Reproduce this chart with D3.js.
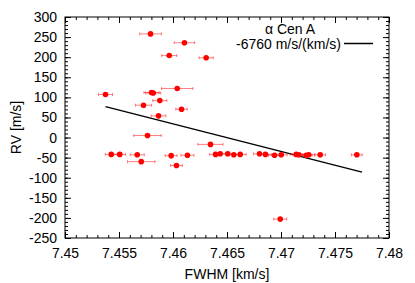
<!DOCTYPE html>
<html>
<head>
<meta charset="utf-8">
<script src="https://cdn.jsdelivr.net/npm/d3@7"></script>
<style>
  body { margin: 0; background: #fff; }
  text { font-family: "Liberation Sans", Arial, sans-serif; }
</style>
</head>
<body>
<div id="chart"></div>
<script>
// FWHM [km/s], its error, and RV [m/s] for each observation
var fwhm = [7.45792, 7.46106, 7.45965, 7.46307, 7.46039, 7.45375, 7.45801, 7.45817,
            7.45878, 7.45727, 7.46079, 7.45866, 7.45764, 7.46347, 7.45428, 7.45507,
            7.45669, 7.45706, 7.45983, 7.46134, 7.46032, 7.46394, 7.46437, 7.46507,
            7.46563, 7.46622, 7.46801, 7.46856, 7.4694, 7.47002, 7.47141, 7.47165,
            7.47233, 7.47257, 7.47363, 7.47702, 7.46993];
var fwhmErr = [0.0010, 0.00095, 0.0007, 0.00065, 0.00145, 0.00065, 0.0007, 0.0007,
               0.00065, 0.00075, 0.00053, 0.00068, 0.00127, 0.00116, 0.00055, 0.00055,
               0.00065, 0.00127, 0.00055, 0.0006, 0.00055, 0.00055, 0.00055, 0.00055,
               0.00055, 0.00055, 0.00055, 0.00055, 0.00055, 0.00055, 0.00055, 0.00055,
               0.00055, 0.00055, 0.0005, 0.0005, 0.0006];
var rv = [258, 236, 204, 198.5, 122, 107, 112, 111,
          92, 80.5, 70.5, 54, 5, -17, -42, -42,
          -43, -60, -45, -44, -69.5, -42, -40.5, -40.5,
          -43, -42, -40.5, -42, -44, -43, -42, -43,
          -44, -43, -43, -43, -203];

// fitted line end points
var fitX = [7.45375, 7.4775];
var fitRV = [77, -86];

var xTicks = [7.45, 7.455, 7.46, 7.465, 7.47, 7.475, 7.48];
var xTickLabels = ["7.45", "7.455", "7.46", "7.465", "7.47", "7.475", "7.48"];
var yTicks = [300, 250, 200, 150, 100, 50, 0, -50, -100, -150, -200, -250];
var yTickLabels = ["300", "250", "200", "150", "100", "50", "0", "-50", "-100", "-150", "-200", "-250"];
var xMinor = d3.range(7450, 7481).map(function(d){ return d / 1000; });
var yMinor = d3.range(-250, 301, 10);

var legendTitle = "\u03b1 Cen A";
var legendLabel = "-6760 m/s/(km/s)";

var svgWidth = 415, svgHeight = 283;
var margin = {top: 17, right: 26, bottom: 45, left: 65};
var width = svgWidth - margin.left - margin.right;
var height = svgHeight - margin.top - margin.bottom;

var svgBG = d3.select("#chart").append("svg")
    .attr("width", svgWidth)
    .attr("height", svgHeight);
var svg = svgBG.append("g")
    .attr("transform", "translate(" + margin.left + "," + margin.top + ")");

var x = d3.scaleLinear().domain([7.45, 7.48]).range([0, width]);
var y = d3.scaleLinear().domain([-250, 300]).range([height, 0]);

function styleAxis(g) {
    g.select(".domain").remove();
    g.selectAll("line").attr("stroke", "#000");
    g.selectAll("text")
        .style("font-family", "'Liberation Sans', Arial, sans-serif")
        .style("font-size", "14px")
        .attr("fill", "#000");
}

// minor ticks, all four sides
svg.append("g").attr("transform", "translate(0," + height + ")")
    .call(d3.axisBottom(x).tickValues(xMinor).tickFormat("").tickSizeInner(-3).tickSizeOuter(0)).call(styleAxis);
svg.append("g")
    .call(d3.axisTop(x).tickValues(xMinor).tickFormat("").tickSizeInner(-3).tickSizeOuter(0)).call(styleAxis);
svg.append("g")
    .call(d3.axisLeft(y).tickValues(yMinor).tickFormat("").tickSizeInner(-3).tickSizeOuter(0)).call(styleAxis);
svg.append("g").attr("transform", "translate(" + width + ",0)")
    .call(d3.axisRight(y).tickValues(yMinor).tickFormat("").tickSizeInner(-3).tickSizeOuter(0)).call(styleAxis);

// major ticks
svg.append("g").attr("transform", "translate(0," + height + ")")
    .call(d3.axisBottom(x).tickValues(xTicks)
        .tickFormat(function(d, i){ return xTickLabels[i]; })
        .tickSizeInner(-6).tickSizeOuter(0).tickPadding(10)).call(styleAxis);
svg.append("g")
    .call(d3.axisTop(x).tickValues(xTicks).tickFormat("").tickSizeInner(-6).tickSizeOuter(0)).call(styleAxis);
svg.append("g")
    .call(d3.axisLeft(y).tickValues(yTicks)
        .tickFormat(function(d, i){ return yTickLabels[i]; })
        .tickSizeInner(-6).tickSizeOuter(0).tickPadding(8)).call(styleAxis);
svg.append("g").attr("transform", "translate(" + width + ",0)")
    .call(d3.axisRight(y).tickValues(yTicks).tickFormat("").tickSizeInner(-6).tickSizeOuter(0)).call(styleAxis);

// border
svg.append("rect")
    .attr("width", width)
    .attr("height", height)
    .attr("fill", "none")
    .attr("stroke", "#000")
    .attr("stroke-width", 1);

// fit line
svg.append("line")
    .attr("x1", x(fitX[0])).attr("y1", y(fitRV[0]))
    .attr("x2", x(fitX[1])).attr("y2", y(fitRV[1]))
    .attr("stroke", "#000")
    .attr("stroke-width", 1.5);

// error bars
var idx = d3.range(fwhm.length);
var err = svg.append("g")
    .attr("stroke", "#ff0000")
    .attr("stroke-opacity", 0.5)
    .attr("stroke-width", 1);
err.selectAll(".eb").data(idx).enter().append("line")
    .attr("x1", function(i){ return x(fwhm[i] - fwhmErr[i]); })
    .attr("x2", function(i){ return x(fwhm[i] + fwhmErr[i]); })
    .attr("y1", function(i){ return y(rv[i]); })
    .attr("y2", function(i){ return y(rv[i]); });
err.selectAll(".capl").data(idx).enter().append("line")
    .attr("x1", function(i){ return x(fwhm[i] - fwhmErr[i]); })
    .attr("x2", function(i){ return x(fwhm[i] - fwhmErr[i]); })
    .attr("y1", function(i){ return y(rv[i]) - 1.5; })
    .attr("y2", function(i){ return y(rv[i]) + 1.5; });
err.selectAll(".capr").data(idx).enter().append("line")
    .attr("x1", function(i){ return x(fwhm[i] + fwhmErr[i]); })
    .attr("x2", function(i){ return x(fwhm[i] + fwhmErr[i]); })
    .attr("y1", function(i){ return y(rv[i]) - 1.5; })
    .attr("y2", function(i){ return y(rv[i]) + 1.5; });

// points
svg.selectAll(".pt").data(idx).enter().append("circle")
    .attr("cx", function(i){ return x(fwhm[i]); })
    .attr("cy", function(i){ return y(rv[i]); })
    .attr("r", 2.8)
    .attr("fill", "#ff0000");

// legend
svg.append("text")
    .attr("x", 225).attr("y", 16.5)
    .attr("text-anchor", "middle")
    .style("font-size", "14px")
    .text(legendTitle);
svg.append("text")
    .attr("x", 276).attr("y", 31.5)
    .attr("text-anchor", "end")
    .style("font-size", "14px")
    .text(legendLabel);
svg.append("line")
    .attr("x1", 279).attr("x2", 308)
    .attr("y1", 26.5).attr("y2", 26.5)
    .attr("stroke", "#000")
    .attr("stroke-width", 1.5);

// axis titles
svgBG.append("text")
    .attr("transform", "translate(21," + (margin.top + height / 2) + ") rotate(-90)")
    .attr("text-anchor", "middle")
    .style("font-size", "14px")
    .text("RV [m/s]");
svgBG.append("text")
    .attr("x", margin.left + width / 2)
    .attr("y", 279)
    .attr("text-anchor", "middle")
    .style("font-size", "14px")
    .text("FWHM [km/s]");
</script>
</body>
</html>
